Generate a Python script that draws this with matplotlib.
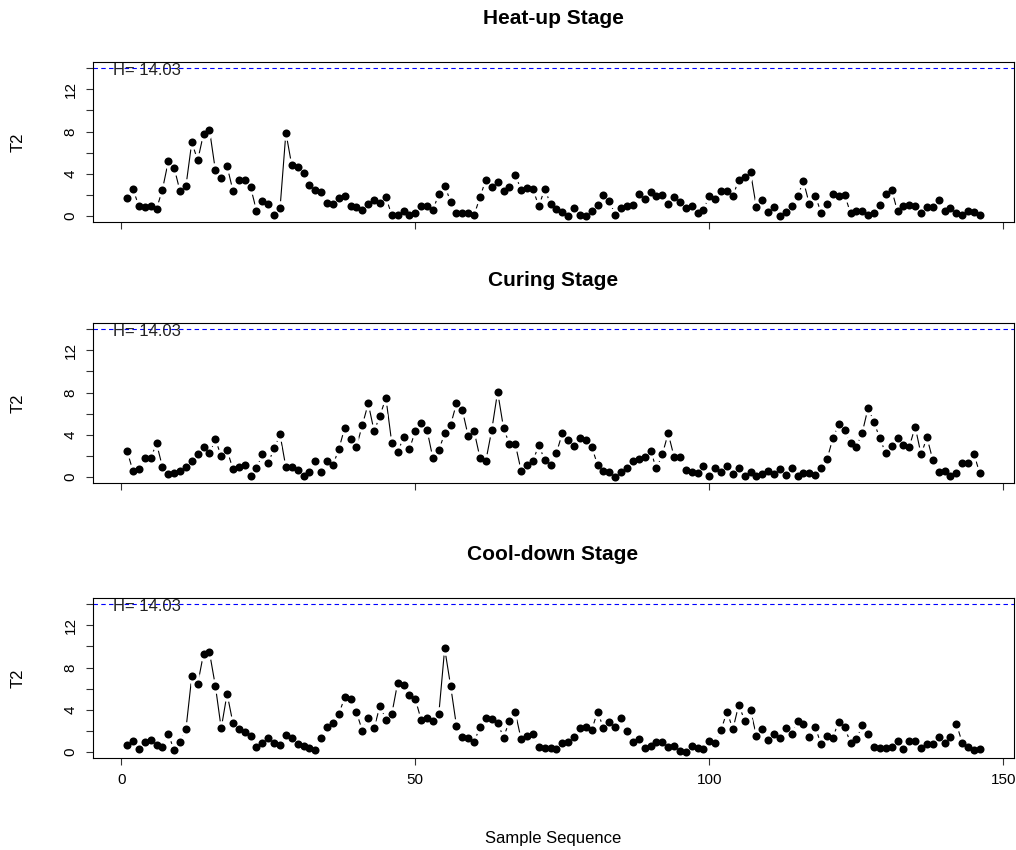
import matplotlib
matplotlib.use("Agg")
import matplotlib.pyplot as plt
import numpy as np

plt.rcParams['font.family'] = ['Liberation Sans', 'DejaVu Sans']

titles = ["Heat-up Stage", "Curing Stage", "Cool-down Stage"]
H = 14.03

heat_up = [1.71, 2.57, 0.92, 0.83, 0.92, 0.67, 2.5, 5.17, 4.57, 2.35,
           2.83, 7.0, 5.27, 7.8, 8.19, 4.38, 3.59, 4.70, 2.41, 3.37,
           3.37, 2.73, 0.51, 1.40, 1.14, 0.13, 0.73, 7.9, 4.79, 4.63,
           4.06, 2.95, 2.48, 2.32, 1.24, 1.14, 1.71, 1.94, 0.92, 0.83,
           0.60, 1.14, 1.52, 1.24, 1.78, 0.10, 0.10, 0.51, 0.10, 0.32,
           0.92, 0.92, 0.57, 2.10, 2.89, 1.37, 0.25, 0.29, 0.25, 0.10,
           1.78, 3.46, 2.79, 3.21, 2.35, 2.79, 3.90, 2.48, 2.67, 2.57,
           0.92, 2.57, 1.14, 0.67, 0.41, 0.03, 0.73, 0.10, 0.0, 0.51,
           1.05, 2.03, 1.40, 0.13, 0.73, 0.92, 1.05, 2.10, 1.62, 2.25,
           1.94, 2.03, 1.14, 1.78, 1.30, 0.73, 0.92, 0.29, 0.60, 1.94,
           1.62, 2.41, 2.41, 1.87, 3.46, 3.68, 4.16, 0.83, 1.56, 0.41,
           0.83, 0.03, 0.41, 0.98, 1.87, 3.30, 1.14, 1.94, 0.32, 1.14,
           2.10, 1.87, 2.03, 0.29, 0.51, 0.51, 0.10, 0.25, 1.05, 2.10,
           2.48, 0.44, 0.92, 1.05, 0.92, 0.32, 0.83, 0.89, 1.52, 0.51,
           0.73, 0.25, 0.13, 0.44, 0.41, 0.13]

curing = [2.46, 0.57, 0.75, 1.77, 1.77, 3.19, 0.98, 0.28, 0.34, 0.60,
          0.92, 1.55, 2.14, 2.81, 2.24, 3.57, 1.99, 2.55, 0.75, 0.92,
          1.13, 0.10, 0.88, 2.14, 1.36, 2.71, 4.04, 0.92, 0.92, 0.67,
          0.10, 0.44, 1.55, 0.51, 1.52, 1.13, 2.65, 4.67, 3.57, 2.88,
          4.92, 6.97, 4.35, 5.81, 7.51, 3.25, 2.34, 3.76, 2.65, 4.35,
          5.14, 4.45, 1.77, 2.55, 4.14, 4.92, 6.97, 6.34, 3.88, 4.35,
          1.83, 1.55, 4.45, 8.08, 4.67, 3.12, 3.12, 0.60, 1.13, 1.52,
          3.03, 1.61, 1.13, 2.30, 4.14, 3.50, 2.93, 3.73, 3.50, 2.88,
          1.13, 0.57, 0.51, 0.0, 0.51, 0.82, 1.52, 1.70, 1.86, 2.46,
          0.82, 2.14, 4.14, 1.93, 1.93, 0.67, 0.44, 0.34, 1.08, 0.13,
          0.88, 0.51, 1.04, 0.28, 0.82, 0.06, 0.51, 0.13, 0.28, 0.60,
          0.28, 0.72, 0.19, 0.82, 0.13, 0.34, 0.34, 0.19, 0.82, 1.67,
          3.66, 5.02, 4.45, 3.25, 2.88, 4.22, 6.56, 5.17, 3.66, 2.24,
          2.96, 3.66, 3.03, 2.88, 4.76, 2.14, 3.76, 1.61, 0.51, 0.60,
          0.10, 0.34, 1.36, 1.36, 2.14, 0.34]

cool_down = [0.67, 1.08, 0.25, 0.98, 1.14, 0.67, 0.51, 1.68, 0.19, 0.98,
             2.16, 7.17, 6.44, 9.33, 9.46, 6.29, 2.25, 5.52, 2.73, 2.19,
             1.94, 1.56, 0.44, 0.83, 1.30, 0.89, 0.67, 1.62, 1.30, 0.76,
             0.57, 0.35, 0.19, 1.30, 2.35, 2.79, 3.62, 5.17, 5.02, 3.75,
             2.03, 3.27, 2.25, 4.41, 3.05, 3.59, 6.54, 6.32, 5.43, 5.02,
             3.05, 3.27, 2.95, 3.62, 9.81, 6.29, 2.48, 1.40, 1.37, 0.98,
             2.35, 3.27, 3.11, 2.79, 1.37, 2.95, 3.75, 1.21, 1.56, 1.71,
             0.51, 0.41, 0.35, 0.25, 0.83, 0.98, 1.46, 2.25, 2.35, 2.10,
             3.84, 2.25, 2.89, 2.35, 3.27, 2.00, 0.98, 1.24, 0.35, 0.60,
             0.98, 0.98, 0.44, 0.57, 0.10, 0.03, 0.57, 0.41, 0.25, 1.08,
             0.83, 2.10, 3.84, 2.16, 4.48, 2.98, 3.94, 1.56, 2.16, 1.14,
             1.71, 1.37, 2.25, 1.68, 2.98, 2.67, 1.40, 2.35, 0.76, 1.52,
             1.37, 2.89, 2.35, 0.89, 1.24, 2.54, 1.68, 0.51, 0.35, 0.35,
             0.44, 1.08, 0.25, 1.08, 1.08, 0.35, 0.73, 0.76, 1.46, 0.89,
             1.40, 2.67, 0.89, 0.44, 0.19, 0.29]

series = [heat_up, curing, cool_down]
x_ticks = [0, 50, 100, 150]
y_ticks = [0, 2, 4, 6, 8, 10, 12, 14]
y_labels = ["0", "", "4", "", "8", "", "12", ""]

W, Hpx = 1016, 850
fig = plt.figure(figsize=(W / 100, Hpx / 100), dpi=100)

panels = [(62, 222), (323, 483), (598, 758)]
left_px, right_px = 93, 1014

for i, (vals, title) in enumerate(zip(series, titles)):
    top, bot = panels[i]
    ax = fig.add_axes([left_px / W, 1 - bot / Hpx, (right_px - left_px) / W, (bot - top) / Hpx])
    xs = np.arange(1, len(vals) + 1)
    ax.plot(xs, vals, color='black', lw=0.8, zorder=2)
    ax.plot(xs, vals, 'o', color='white', ms=10.5, mec='none', zorder=3)
    ax.plot(xs, vals, 'o', color='black', ms=5.8, mec='none', zorder=4)
    ax.axhline(H, color='blue', lw=0.8, ls=(0, (4, 3)), zorder=1)
    ax.text(4.3, H - 0.25, "H= 14.03", ha='center', va='center', fontsize=12, color='#222222', zorder=5)
    ax.set_xlim(-4.8, 151.8)
    ax.set_ylim(-0.56, 14.59)
    ax.set_xticks(x_ticks)
    ax.set_yticks(y_ticks)
    ax.set_yticklabels(y_labels, rotation=90, va='center')
    ax.tick_params(axis='both', direction='out', length=5, width=0.8, labelsize=11, color='#333333')
    ax.tick_params(axis='y', pad=6)
    ax.tick_params(axis='x', pad=6)
    if i < 2:
        ax.set_xticklabels([])
    for s in ax.spines.values():
        s.set_linewidth(0.8)
        s.set_color('black')
        s.set_zorder(6)
    fig.text(553 / W, 1 - (top - 43) / Hpx, title, ha='center', va='center',
             fontsize=15, fontweight='bold')
    fig.text(18 / W, 1 - ((top + bot) / 2) / Hpx, "T2", rotation=90, ha='center', va='center', fontsize=12)

fig.text(553 / W, 1 - 838 / Hpx, "Sample Sequence", ha='center', va='center', fontsize=12)

fig.savefig("out.png", dpi=100)
